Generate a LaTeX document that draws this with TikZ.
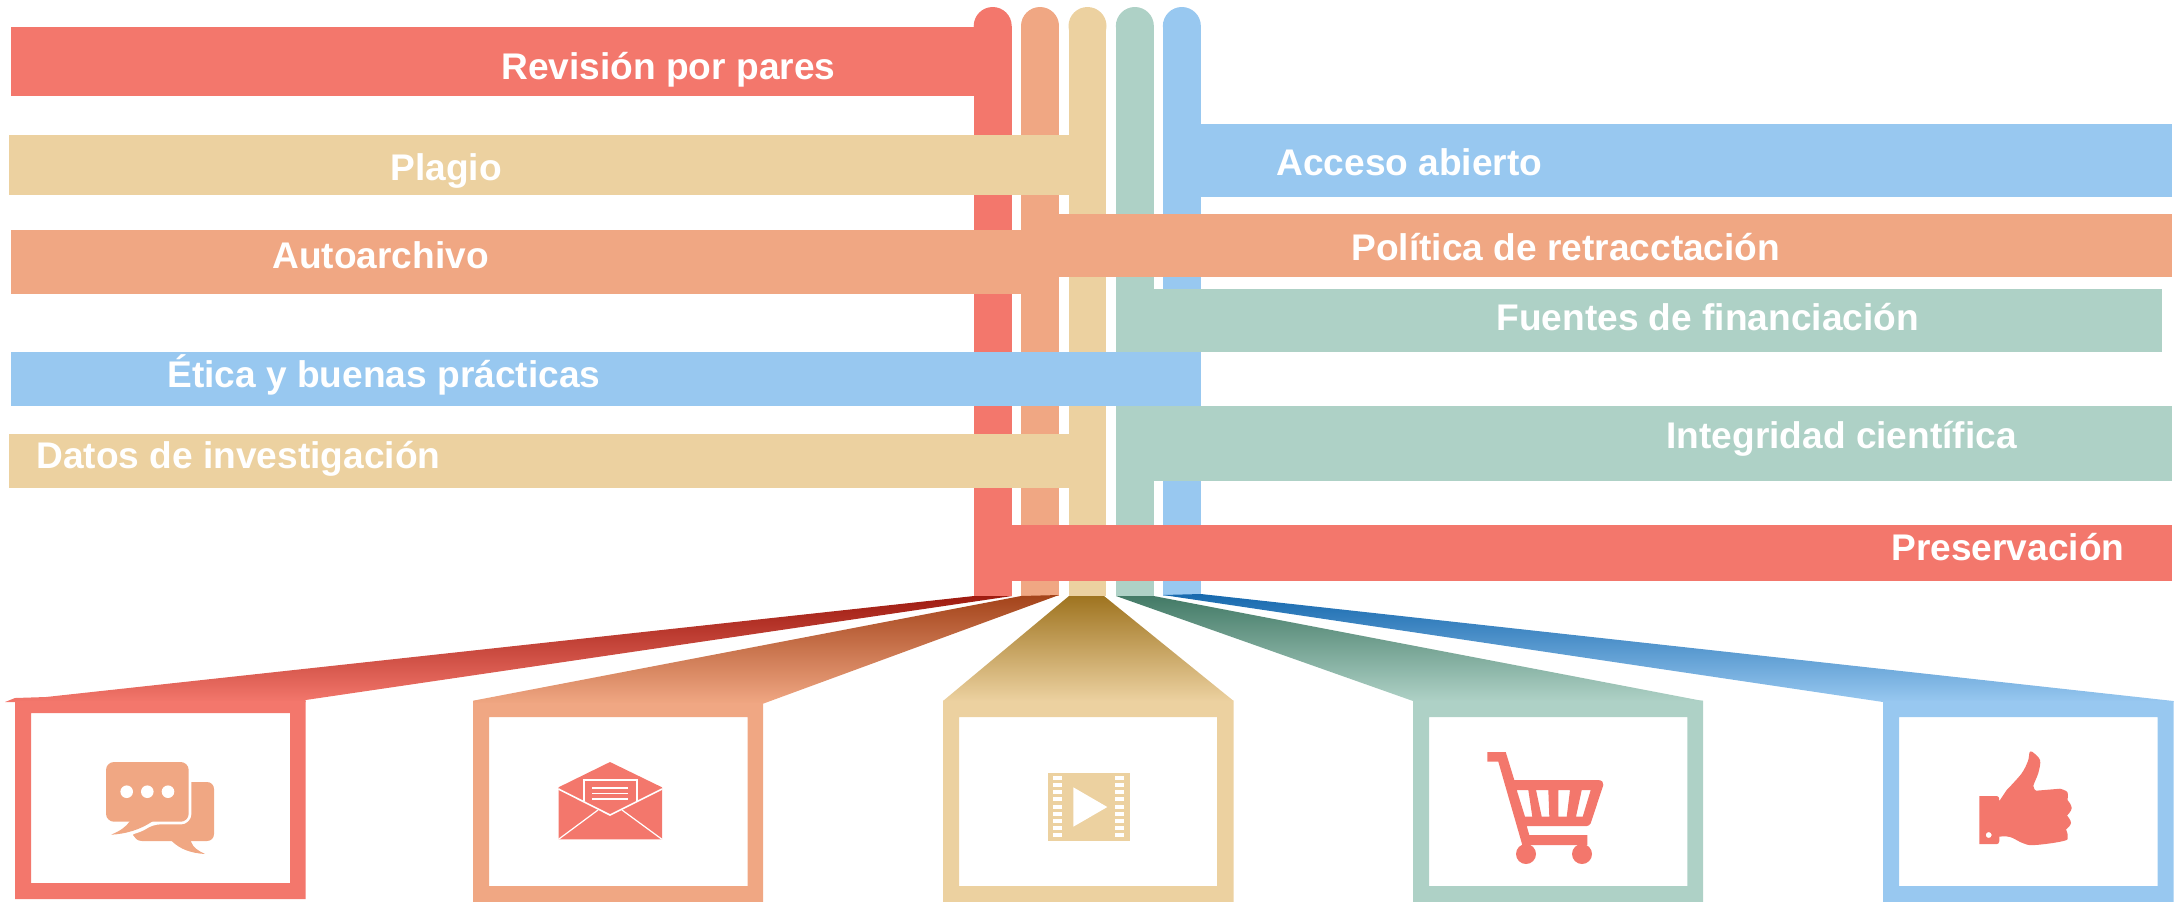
\documentclass[tikz,border=0pt]{standalone}
\usepackage{fontspec}
\setmainfont{Liberation Sans}
\definecolor{cred}{HTML}{F3776C}
\definecolor{cora}{HTML}{F0A783}
\definecolor{cyel}{HTML}{ECD1A0}
\definecolor{cgre}{HTML}{AED1C6}
\definecolor{cblu}{HTML}{98C8F0}
\definecolor{dred}{HTML}{9E1B10}
\definecolor{dora}{HTML}{A3431A}
\definecolor{dyel}{HTML}{9F7420}
\definecolor{dgre}{HTML}{437A66}
\definecolor{dblu}{HTML}{1769AE}
\tikzset{
  lbl/.style={text=white,inner sep=0pt,anchor=base west,font=\fontsize{18.55pt}{22pt}\selectfont\bfseries},
  frameshape/.style={even odd rule}
}
\newcommand{\colbar}[3]{%
  \fill[#1] (#2,26) rectangle (#3,596);
  \fill[#1] ({(#2+#3)/2},26) circle[radius=9.5pt];}
\begin{document}
\begin{tikzpicture}[x=0.5pt,y=-0.5pt]
\useasboundingbox (0,0) rectangle (2177,901);
\clip (0,0) rectangle (2177,901);
% columns
\colbar{cred}{973.7}{1011.7}
\colbar{cora}{1021}{1059}
\colbar{cyel}{1068.7}{1106.3}
\colbar{cgre}{1116}{1153.7}
\colbar{cblu}{1163}{1200.7}
% bars
\fill[cred] (11,27) rectangle (1012,96);
\fill[cyel] (9,135) rectangle (1106.3,195);
\fill[cblu] (1163,124) rectangle (2172,197);
\fill[cora] (11,230) rectangle (1059,294);
\fill[cora] (1058,214) rectangle (2172,277);
\fill[cgre] (1116,289) rectangle (2162,352);
\fill[cblu] (11,352) rectangle (1200.7,406);
\fill[cyel] (9,434) rectangle (1106.3,488);
\fill[cgre] (1116,406) rectangle (2172,481);
\fill[cred] (973.7,525) rectangle (2172,581);
% funnels
\shade[top color=dred,bottom color=cred] (974,596) -- (1012,596) -- (305.6,700) -- (305.6,702) -- (5,702) -- (15,698) -- (46,697) -- cycle;
\shade[top color=dora,bottom color=cora] (1021,596) -- (1059,595) -- (763,703.7) -- (473,703.7) -- (473,700.7) -- cycle;
\shade[top color=dyel,bottom color=cyel] (1069,596) -- (1104,596) -- (1233.7,701) -- (943,701) -- cycle;
\shade[top color=dgre,bottom color=cgre] (1116,596) -- (1153.7,596) -- (1703,701) -- (1413,701) -- cycle;
\shade[top color=dblu,bottom color=cblu] (1163,595) -- (1201,594) -- (2173.5,701) -- (2173.5,702) -- (1883,702) -- cycle;
% frames
\fill[cred,frameshape] (15,701) rectangle (305.6,899) (31,713) rectangle (290,883);
\fill[cora,frameshape] (473,703) rectangle (763,905) (489,717) rectangle (747.5,886);
\fill[cyel,frameshape] (943,700.5) rectangle (1233.7,905) (959,717) rectangle (1217,886);
\fill[cgre,frameshape] (1413,700.5) rectangle (1703,905) (1429,717) rectangle (1687.4,886);
\fill[cblu,frameshape] (1883,701) rectangle (2173.5,905) (1899,717) rectangle (2157.7,886);
% speech icon
\fill[cora] (150,815) -- (185,782) -- (207,782) .. controls (211,782) and (214,785) .. (214,789) -- (214,834) .. controls (214,838) and (211,841) .. (207,841) -- (190.7,841) .. controls (193,848) and (199,851) .. (205,854) .. controls (190,853) and (180,849) .. (171.7,841) -- (142,841) .. controls (137,841) and (135,838) .. (133,835) -- cycle;
\draw[white,line width=2.7pt,line join=round,rounded corners=4pt] (106,762) -- (188.7,762) -- (188.7,821.7) -- (151.7,821.7) .. controls (140,830) and (125,834) .. (111,834.7) .. controls (120,831) and (126,827) .. (130,821.7) -- (106,821.7) -- cycle;
\fill[cora,rounded corners=4pt] (106,762) -- (188.7,762) -- (188.7,821.7) -- (153,821.7) -- (130,821.7) -- (106,821.7) -- cycle;
\fill[cora] (130,821) .. controls (126,827) and (120,831) .. (111,834.7) .. controls (125,834) and (140,830) .. (153,821) -- cycle;
\fill[white] (126.7,791.7) circle[radius=3.15pt] (147.3,791.7) circle[radius=3.15pt] (168,791.7) circle[radius=3.15pt];
% envelope icon
\fill[cred] (610,762) -- (662,787.3) -- (662,839.3) -- (558.5,839.3) -- (558.5,787.3) -- cycle;
\draw[white,line width=0.8pt] (558.5,789) -- (610,815) -- (662,789);
\draw[white,line width=0.6pt] (558.5,839.3) -- (598,810) (662,839.3) -- (622,810);
\draw[white,line width=1pt] (583.5,801) -- (583.5,780) -- (637,780) -- (637,801);
\draw[white,line width=0.9pt] (592.3,788.3) -- (628.3,788.3) (592.3,793.5) -- (628.3,793.5) (592.3,798.7) -- (628.3,798.7);
% film icon
\fill[cyel] (1048,773) rectangle (1130,841);
\foreach \hy in {778,785,792.3,799.3,806.7,813.7,821,828.3,835.3}{
  \fill[white] (1053.3,\hy-2) rectangle (1062,\hy+2);
  \fill[white] (1115.3,\hy-2) rectangle (1124.3,\hy+2);
}
\fill[white] (1073.3,787.3) -- (1073.3,826.7) -- (1107.3,807) -- cycle;
% cart icon
\fill[cred,even odd rule] (1487.3,752) -- (1505.7,752) -- (1514.3,780) -- (1598.3,780) .. controls (1602,780) and (1604,783) .. (1603.3,785) -- (1590.7,823.3) .. controls (1590,825) and (1588,826) .. (1586.7,826) -- (1526.7,826) -- (1529.3,835) -- (1587.3,835) -- (1587.3,845) -- (1522.3,845) -- (1498.3,761.7) -- (1487.3,761.7) -- cycle
 (1516.7,790) -- (1528.3,790) -- (1532.3,816.7) -- (1525,816.7) -- cycle
 (1536,790) -- (1548.3,790) -- (1549.3,816.7) -- (1541.7,816.7) -- cycle
 (1558.3,790) -- (1570,790) -- (1566.7,816.7) -- (1558.3,816.7) -- cycle
 (1581.7,790) -- (1590.7,790) -- (1582.7,816.7) -- (1576,816.7) -- cycle;
\fill[cred] (1526,854) circle[radius=5pt] (1582,854) circle[radius=5pt];
% thumb icon
\fill[cred,even odd rule] (1979.3,796) -- (1997,796) .. controls (1999,796) and (1999.3,798) .. (1999.3,801) -- plot[smooth,tension=.55] coordinates {(2006.7,790) (2021.7,773.3) (2028.3,760) (2029.3,753) (2032,751.7) (2040,760) (2038.3,773) (2033.3,786) (2036,790.7)} -- plot[smooth,tension=.55] coordinates {(2060,788.7) (2067.3,792) (2067.5,800)} -- plot[smooth,tension=.7] coordinates {(2067.5,800) (2071.7,808) (2067,815.5)} -- plot[smooth,tension=.7] coordinates {(2067,815.5) (2071,823) (2066,829.5)} -- plot[smooth,tension=.7] coordinates {(2066,829.5) (2067.7,836.7) (2063.3,841) (2035,845) (2023.3,843.3) (2010,837) (1999.3,836.7)} -- (1999.3,841) .. controls (1999.3,843) and (1998,844) .. (1997,844) -- (1979.3,844) -- cycle
 (1988.7,835) circle[radius=1.5pt];
% labels
\node[lbl] (t1) at (501,79) {Revisión por pares};
\node[lbl] (t2) at (390,180) {Plagio};
\node[lbl] (t3) at (1276,175) {Acceso abierto};
\node[lbl] (t4) at (1351,260) {Política de retracctación};
\node[lbl] (t5) at (272,268) {Autoarchivo};
\node[lbl] (t6) at (1496,330.5) {Fuentes de financiación};
\node[lbl] (t7) at (167,387.5) {Ética y buenas prácticas};
\node[lbl] (t8) at (1666,448) {Integridad científica};
\node[lbl] (t9) at (36,468.5) {Datos de investigación};
\node[lbl] (t10) at (1891,560) {Preservación};
\end{tikzpicture}
\end{document}
